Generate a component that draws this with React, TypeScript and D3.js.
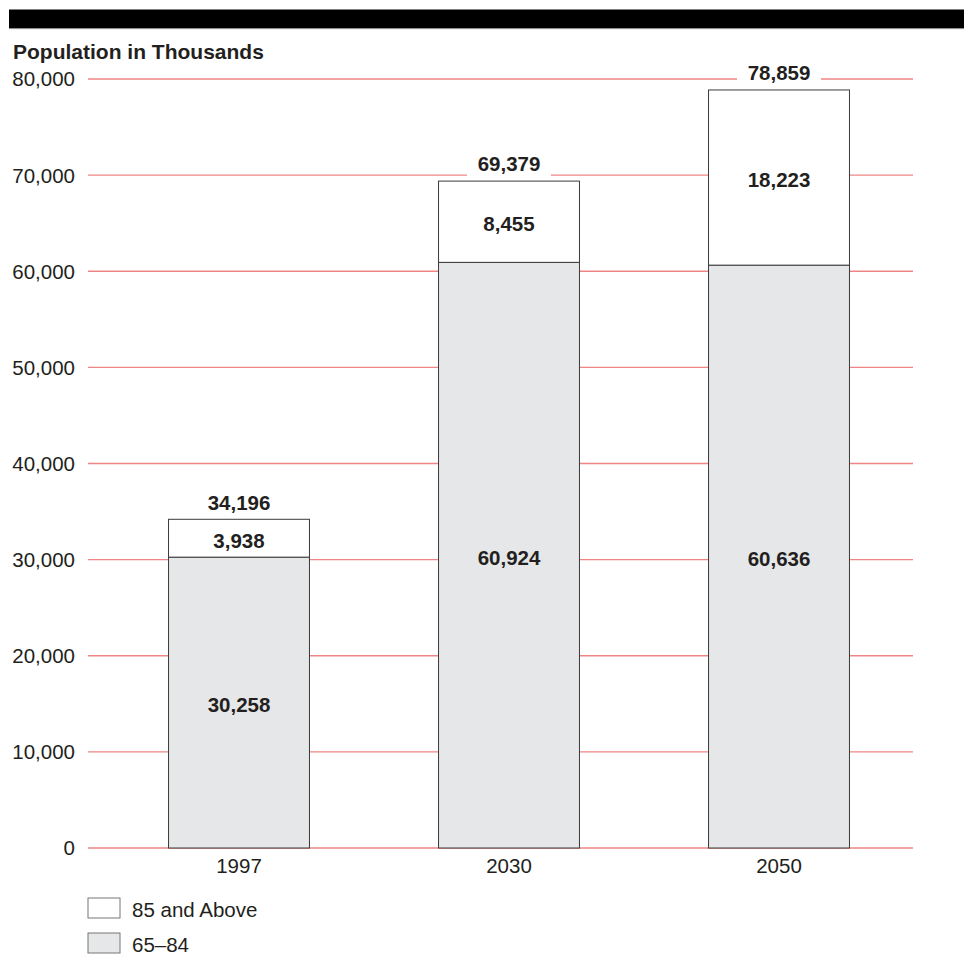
import React from "react";
import * as d3 from "d3";

const years = ["1997", "2030", "2050"];
const age65to84 = [30258, 60924, 60636];
const age85plus = [3938, 8455, 18223];
const totals = [34196, 69379, 78859];
const yTicks = [0, 10000, 20000, 30000, 40000, 50000, 60000, 70000, 80000];
const legendItems = ["85 and Above", "65–84"];

const W = 964;
const H = 957;
const FONT = "'Liberation Sans', Arial, Helvetica, sans-serif";
const TEXT = "#231f20";
const GRID = "#f08585";
const BAR_FILL = "#e6e7e8";
const BAR_STROKE = "#3a3a3a";
const FS = 20.5;

export default function App() {
  const y = d3.scaleLinear().domain([0, 80000]).range([848, 79]);
  const x = d3.scaleBand().domain(years).range([104, 914]).paddingInner(0.478).paddingOuter(0.239);
  const fmt = d3.format(",");
  const bw = x.bandwidth();

  return (
    <svg
      width={W}
      height={H}
      style={{ position: "absolute", left: 0, top: 0, background: "#fff" }}
      fontFamily={FONT}
    >
      <rect x={9} y={9.5} width={955} height={19} fill="#000" />
      <line x1={9} x2={964} y1={28.7} y2={28.7} stroke="#999" strokeWidth={0.8} />
      <text x={13} y={59} fontSize={21} fontWeight="bold" fill={TEXT}>
        Population in Thousands
      </text>

      {yTicks.map((t) => (
        <g key={t}>
          <line x1={88} x2={913} y1={y(t)} y2={y(t)} stroke={GRID} strokeWidth={1.3} />
          <text x={75} y={y(t)} dy="0.36em" textAnchor="end" fontSize={FS} fill={TEXT}>
            {fmt(t)}
          </text>
        </g>
      ))}

      {years.map((yr, i) => {
        const x0 = x(yr)!;
        const cx = x0 + bw / 2;
        const lowTop = y(age65to84[i]);
        const top = y(age65to84[i] + age85plus[i]);
        return (
          <g key={yr}>
            <rect x={x0} y={lowTop} width={bw} height={y(0) - lowTop} fill={BAR_FILL} stroke={BAR_STROKE} strokeWidth={1} />
            <rect x={x0} y={top} width={bw} height={lowTop - top} fill="#fff" stroke={BAR_STROKE} strokeWidth={1} />
            <text x={cx} y={(lowTop + y(0)) / 2 + 2} dy="0.36em" textAnchor="middle" fontSize={FS} fontWeight="bold" fill={TEXT}>
              {fmt(age65to84[i])}
            </text>
            <text x={cx} y={(top + lowTop) / 2 + 2} dy="0.36em" textAnchor="middle" fontSize={FS} fontWeight="bold" fill={TEXT}>
              {fmt(age85plus[i])}
            </text>
            <rect x={cx - 42} y={y(totals[i]) - 30} width={84} height={26} fill="#fff" />
            <text x={cx} y={y(totals[i]) - 17} dy="0.36em" textAnchor="middle" fontSize={FS} fontWeight="bold" fill={TEXT}>
              {fmt(totals[i])}
            </text>
            <text x={cx} y={866} dy="0.36em" textAnchor="middle" fontSize={FS} fill={TEXT}>
              {yr}
            </text>
          </g>
        );
      })}

      {legendItems.map((lab, i) => (
        <g key={lab}>
          <rect x={88} y={898 + i * 35} width={32} height={20} fill={i === 0 ? "#fff" : BAR_FILL} stroke="#777" strokeWidth={1} />
          <text x={132} y={908 + i * 35 + 2} dy="0.36em" fontSize={FS} fill={TEXT}>
            {lab}
          </text>
        </g>
      ))}
    </svg>
  );
}
